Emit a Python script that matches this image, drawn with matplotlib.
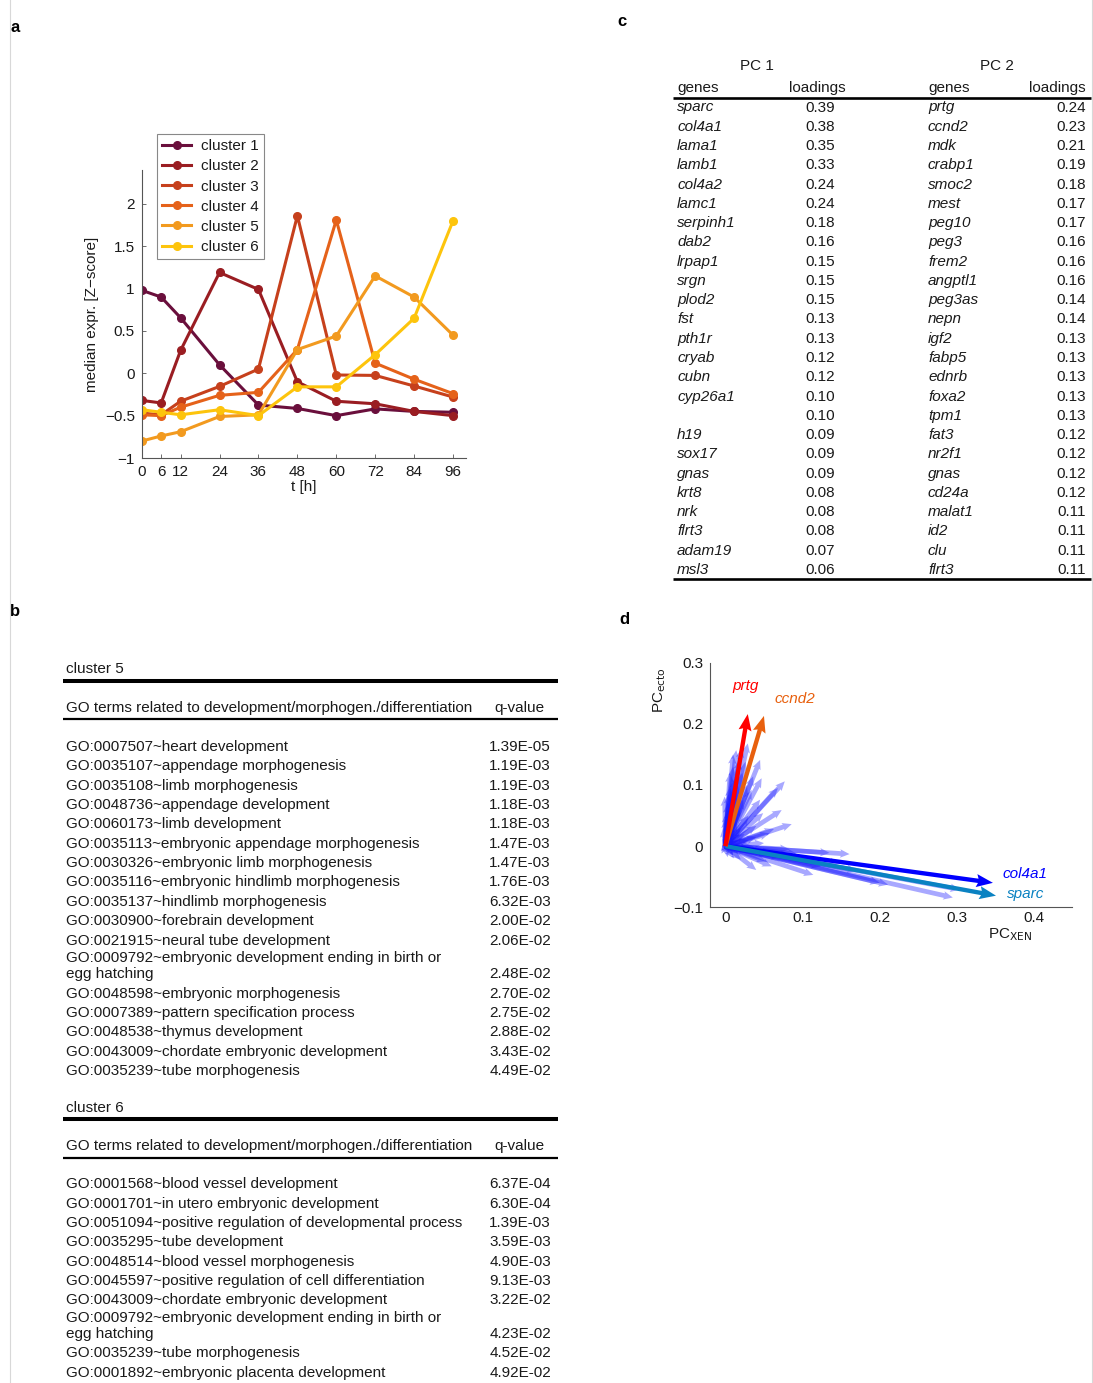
import matplotlib
matplotlib.use('Agg')
import matplotlib.pyplot as plt
from matplotlib.lines import Line2D

plt.rcParams['font.family'] = ['Liberation Sans', 'DejaVu Sans']
plt.rcParams['axes.unicode_minus'] = True

W, H = 1093, 1383

# ---------------- panel a: median expression per cluster ----------------
hours = [0, 6, 12, 24, 36, 48, 60, 72, 84, 96]
cluster_labels = ['cluster 1', 'cluster 2', 'cluster 3', 'cluster 4', 'cluster 5', 'cluster 6']
cluster1 = [0.98, 0.90, 0.655, 0.10, -0.375, -0.415, -0.50, -0.42, -0.45, -0.46]
cluster2 = [-0.32, -0.35, 0.27, 1.19, 0.99, -0.10, -0.33, -0.36, -0.45, -0.50]
cluster3 = [-0.47, -0.49, -0.33, -0.155, 0.05, 1.86, -0.02, -0.025, -0.15, -0.28]
cluster4 = [-0.49, -0.50, -0.40, -0.26, -0.225, 0.28, 1.81, 0.12, -0.07, -0.24]
cluster5 = [-0.80, -0.74, -0.69, -0.51, -0.49, 0.28, 0.44, 1.15, 0.90, 0.45]
cluster6 = [-0.43, -0.46, -0.49, -0.43, -0.50, -0.16, -0.16, 0.22, 0.65, 1.80]
cluster_colors = ['#6a0f3c', '#9a1d22', '#c6401c', '#e5621a', '#f29a1f', '#fdc40c']

# ---------------- panel b: GO term enrichment ----------------
go_cluster5_terms = [
    'GO:0007507~heart development',
    'GO:0035107~appendage morphogenesis',
    'GO:0035108~limb morphogenesis',
    'GO:0048736~appendage development',
    'GO:0060173~limb development',
    'GO:0035113~embryonic appendage morphogenesis',
    'GO:0030326~embryonic limb morphogenesis',
    'GO:0035116~embryonic hindlimb morphogenesis',
    'GO:0035137~hindlimb morphogenesis',
    'GO:0030900~forebrain development',
    'GO:0021915~neural tube development',
    'GO:0009792~embryonic development ending in birth or\negg hatching',
    'GO:0048598~embryonic morphogenesis',
    'GO:0007389~pattern specification process',
    'GO:0048538~thymus development',
    'GO:0043009~chordate embryonic development',
    'GO:0035239~tube morphogenesis',
]
go_cluster5_q = ['1.39E-05', '1.19E-03', '1.19E-03', '1.18E-03', '1.18E-03', '1.47E-03',
                 '1.47E-03', '1.76E-03', '6.32E-03', '2.00E-02', '2.06E-02', '2.48E-02',
                 '2.70E-02', '2.75E-02', '2.88E-02', '3.43E-02', '4.49E-02']
go_cluster6_terms = [
    'GO:0001568~blood vessel development',
    'GO:0001701~in utero embryonic development',
    'GO:0051094~positive regulation of developmental process',
    'GO:0035295~tube development',
    'GO:0048514~blood vessel morphogenesis',
    'GO:0045597~positive regulation of cell differentiation',
    'GO:0043009~chordate embryonic development',
    'GO:0009792~embryonic development ending in birth or\negg hatching',
    'GO:0035239~tube morphogenesis',
    'GO:0001892~embryonic placenta development',
]
go_cluster6_q = ['6.37E-04', '6.30E-04', '1.39E-03', '3.59E-03', '4.90E-03', '9.13E-03',
                 '3.22E-02', '4.23E-02', '4.52E-02', '4.92E-02']

# ---------------- panel c: PC loadings ----------------
pc1_genes = ['sparc', 'col4a1', 'lama1', 'lamb1', 'col4a2', 'lamc1', 'serpinh1', 'dab2',
             'lrpap1', 'srgn', 'plod2', 'fst', 'pth1r', 'cryab', 'cubn', 'cyp26a1', '',
             'h19', 'sox17', 'gnas', 'krt8', 'nrk', 'flrt3', 'adam19', 'msl3']
pc1_loadings = [0.39, 0.38, 0.35, 0.33, 0.24, 0.24, 0.18, 0.16, 0.15, 0.15, 0.15, 0.13,
                0.13, 0.12, 0.12, 0.10, 0.10, 0.09, 0.09, 0.09, 0.08, 0.08, 0.08, 0.07, 0.06]
pc2_genes = ['prtg', 'ccnd2', 'mdk', 'crabp1', 'smoc2', 'mest', 'peg10', 'peg3', 'frem2',
             'angptl1', 'peg3as', 'nepn', 'igf2', 'fabp5', 'ednrb', 'foxa2', 'tpm1', 'fat3',
             'nr2f1', 'gnas', 'cd24a', 'malat1', 'id2', 'clu', 'flrt3']
pc2_loadings = [0.24, 0.23, 0.21, 0.19, 0.18, 0.17, 0.17, 0.16, 0.16, 0.16, 0.14, 0.14,
                0.13, 0.13, 0.13, 0.13, 0.13, 0.12, 0.12, 0.12, 0.12, 0.11, 0.11, 0.11, 0.11]

# ---------------- panel d: gene loading vectors ----------------
bg_x = [0.029, 0.021, 0.014, 0.045, 0.047, 0.077, 0.068, 0.036, 0.034, 0.073, 0.086,
        0.003, 0.001, 0.014, 0.023, 0.049, 0.045, -0.001, 0.006, 0.010, 0.018, 0.026,
        0.057, 0.063, 0.040, 0.008, 0.012, 0.004, -0.004, -0.006,
        0.161, 0.135, 0.083, 0.114, 0.060, 0.053, 0.040, 0.003, 0.211, 0.200, 0.295,
        0.304, 0.148, 0.170, 0.124, 0.020, 0.072, 0.093, -0.005, 0.030, 0.010,
        0.005, 0.010, 0.015, 0.020, 0.025, 0.030, 0.035, 0.020, -0.003, 0.000, 0.008,
        0.012, 0.006, 0.016, 0.030, 0.040, 0.050, 0.045, 0.010, 0.004, 0.022, 0.028,
        0.018, 0.007, 0.011, 0.060, 0.100, 0.032]
bg_y = [0.168, 0.160, 0.157, 0.141, 0.111, 0.106, 0.095, 0.114, 0.092, 0.059, 0.036,
        0.070, 0.054, 0.087, 0.076, 0.054, 0.076, 0.081, 0.097, 0.130, 0.141, 0.138,
        0.021, 0.028, 0.033, 0.040, 0.020, 0.030, 0.012, -0.008,
        -0.013, -0.011, -0.005, -0.047, -0.033, -0.025, -0.039, -0.018, -0.063, -0.060,
        -0.084, -0.071, -0.028, -0.040, -0.033, -0.022, -0.018, -0.013, -0.012, -0.010,
        -0.015,
        0.060, 0.050, 0.040, 0.030, 0.020, 0.010, 0.000, -0.010, 0.030, 0.045, 0.065,
        0.110, 0.120, 0.100, 0.050, 0.015, 0.005, -0.008, 0.150, 0.085, 0.120, 0.100,
        0.065, 0.025, -0.020, -0.012, -0.020, -0.004]
key_genes = ['col4a1', 'sparc', 'ccnd2', 'prtg']
key_x = [0.347, 0.351, 0.050, 0.029]
key_y = [-0.060, -0.081, 0.213, 0.216]
key_colors = ['#0000ff', '#0a82c2', '#e8600e', '#ff0000']
key_label_pos = [(0.388, -0.045), (0.389, -0.078), (0.090, 0.241), (0.026, 0.262)]

# =====================================================================
fig = plt.figure(figsize=(W / 100, H / 100), dpi=100)
TXT = '#1a1a1a'
FS = 11


def ftext(x, y, s, **kw):
    kw.setdefault('color', TXT)
    return fig.text(x / W, 1 - y / H, s, **kw)


def hline(x0, x1, y, lw):
    fig.add_artist(Line2D([x0 / W, x1 / W], [1 - y / H, 1 - y / H], color='black',
                          lw=lw, transform=fig.transFigure, solid_capstyle='butt'))


# page edge rules
for xe in (9.5, 1091.5):
    fig.add_artist(Line2D([xe / W, xe / W], [0, 1], color='#d8d8d8', lw=0.8,
                          transform=fig.transFigure))

# panel letters
for lab, (x, y) in zip('abcd', [(15, 28), (15, 611), (622, 22), (624, 619)]):
    ftext(x, y, lab, fontsize=12, fontweight='bold', ha='center', va='center', color='black')

# ---- panel a
axa = fig.add_axes([141.7 / W, 1 - 458 / H, (466 - 141.7) / W, (458 - 170) / H])
series = [cluster1, cluster2, cluster3, cluster4, cluster5, cluster6]
for vals, lab, col in zip(series, cluster_labels, cluster_colors):
    axa.plot(hours, vals, '-o', color=col, lw=2.2, ms=5.5, label=lab)
axa.set_xlim(0, 100)
axa.set_ylim(-1, 2.4)
axa.set_xticks(hours)
axa.set_yticks([-1, -0.5, 0, 0.5, 1, 1.5, 2])
axa.set_yticklabels(['\u22121', '\u22120.5', '0', '0.5', '1', '1.5', '2'])
for s in ('top', 'right'):
    axa.spines[s].set_visible(False)
for s in ('left', 'bottom'):
    axa.spines[s].set_color('#555555')
    axa.spines[s].set_linewidth(0.8)
axa.tick_params(direction='in', length=3, width=0.6, color='#555555',
                labelsize=FS, labelcolor=TXT, pad=5)
axa.set_xlabel('t [h]', fontsize=FS, color=TXT, labelpad=1)
axa.set_ylabel('median expr. [Z\u2212score]', fontsize=FS, color=TXT, labelpad=4)
leg = axa.legend(loc='upper left', bbox_to_anchor=(157 / W, 1 - 134 / H),
                 bbox_transform=fig.transFigure, fontsize=FS, frameon=True,
                 fancybox=False, edgecolor='#888888', framealpha=1, handlelength=1.9,
                 labelspacing=0.40, borderpad=0.35, handletextpad=0.6, borderaxespad=0)
leg.get_frame().set_linewidth(0.8)
for t in leg.get_texts():
    t.set_color(TXT)


# ---- panel b
def draw_go_block(title, title_y, terms, qvals, row0):
    ftext(66, title_y + 5, title, fontsize=FS, va='baseline')
    hline(63, 558, title_y + 12.5, 2.9)
    ftext(66, title_y + 38.5 + 5, 'GO terms related to development/morphogen./differentiation',
          fontsize=FS, va='baseline')
    ftext(494, title_y + 38.5 + 5, 'q-value', fontsize=FS, va='baseline')
    hline(63, 558, title_y + 51, 1.6)
    y = row0
    for i, (term, q) in enumerate(zip(terms, qvals)):
        lines = term.split('\n')
        if len(lines) > 1 and i > 0:
            y -= 1.8
        for j, ln in enumerate(lines):
            if j > 0:
                y += 16.2
            ftext(66, y + 5, ln, fontsize=FS, va='baseline')
        ftext(551, y + 5, q, fontsize=FS, va='baseline', ha='right')
        y += 19.35


draw_go_block('cluster 5', 668.3, go_cluster5_terms, go_cluster5_q, 746)
draw_go_block('cluster 6', 1106.5, go_cluster6_terms, go_cluster6_q, 1183.3)

# ---- panel c
ftext(757, 65 + 5, 'PC 1', fontsize=FS, va='baseline', ha='center')
ftext(997, 65 + 5, 'PC 2', fontsize=FS, va='baseline', ha='center')
ftext(677, 87.3 + 5, 'genes', fontsize=FS, va='baseline')
ftext(817, 87.3 + 5, 'loadings', fontsize=FS, va='baseline', ha='center')
ftext(928, 87.3 + 5, 'genes', fontsize=FS, va='baseline')
ftext(1086, 87.3 + 5, 'loadings', fontsize=FS, va='baseline', ha='right')
hline(673, 1091, 97.8, 1.9)
row_step = (569 - 106.5) / (len(pc1_genes) - 1)
for i in range(len(pc1_genes)):
    y = 106.5 + i * row_step + 5
    ftext(677, y, pc1_genes[i], fontsize=FS, va='baseline', style='italic')
    ftext(820.5, y, f'{pc1_loadings[i]:.2f}', fontsize=FS, va='baseline', ha='center')
    ftext(928, y, pc2_genes[i], fontsize=FS, va='baseline', style='italic')
    ftext(1086, y, f'{pc2_loadings[i]:.2f}', fontsize=FS, va='baseline', ha='right')
hline(673, 1091, 578.5, 1.9)

# ---- panel d
axd = fig.add_axes([710 / W, 1 - 907.3 / H, (1072.3 - 710) / W, (907.3 - 662.7) / H])
axd.quiver([0] * len(bg_x), [0] * len(bg_y), bg_x, bg_y, angles='xy', scale_units='xy',
           scale=1, color=(0.1, 0.1, 1.0, 0.38), width=0.013, headwidth=1.8,
           headlength=2.0, headaxislength=1.8)
for gx, gy, col in zip(key_x, key_y, key_colors):
    axd.quiver(0, 0, gx, gy, angles='xy', scale_units='xy', scale=1, color=col,
               width=0.012, headwidth=3.0, headlength=3.8, headaxislength=3.4, zorder=3)
for g, (lx, ly), col in zip(key_genes, key_label_pos, key_colors):
    axd.text(lx, ly, g, color=col, fontsize=FS, style='italic', ha='center', va='center')
axd.set_xlim(-0.02, 0.45)
axd.set_ylim(-0.1, 0.3)
axd.set_xticks([0, 0.1, 0.2, 0.3, 0.4])
axd.set_xticklabels(['0', '0.1', '0.2', '0.3', '0.4'])
axd.set_yticks([-0.1, 0, 0.1, 0.2, 0.3])
axd.set_yticklabels(['\u22120.1', '0', '0.1', '0.2', '0.3'])
for s in ('top', 'right'):
    axd.spines[s].set_visible(False)
for s in ('left', 'bottom'):
    axd.spines[s].set_color('#555555')
    axd.spines[s].set_linewidth(0.8)
axd.tick_params(direction='in', length=0, labelsize=FS, labelcolor=TXT, pad=5)
axd.tick_params(axis='x', pad=3)
axd.text(-0.138, 0.888, r'PC$_{\mathrm{ecto}}$', transform=axd.transAxes, rotation=90,
         fontsize=FS, color=TXT, ha='center', va='center')
axd.text(0.828, -0.113, r'PC$_{\mathrm{XEN}}$', transform=axd.transAxes,
         fontsize=FS, color=TXT, ha='center', va='center')

fig.savefig('out.png', dpi=100, facecolor='white')
